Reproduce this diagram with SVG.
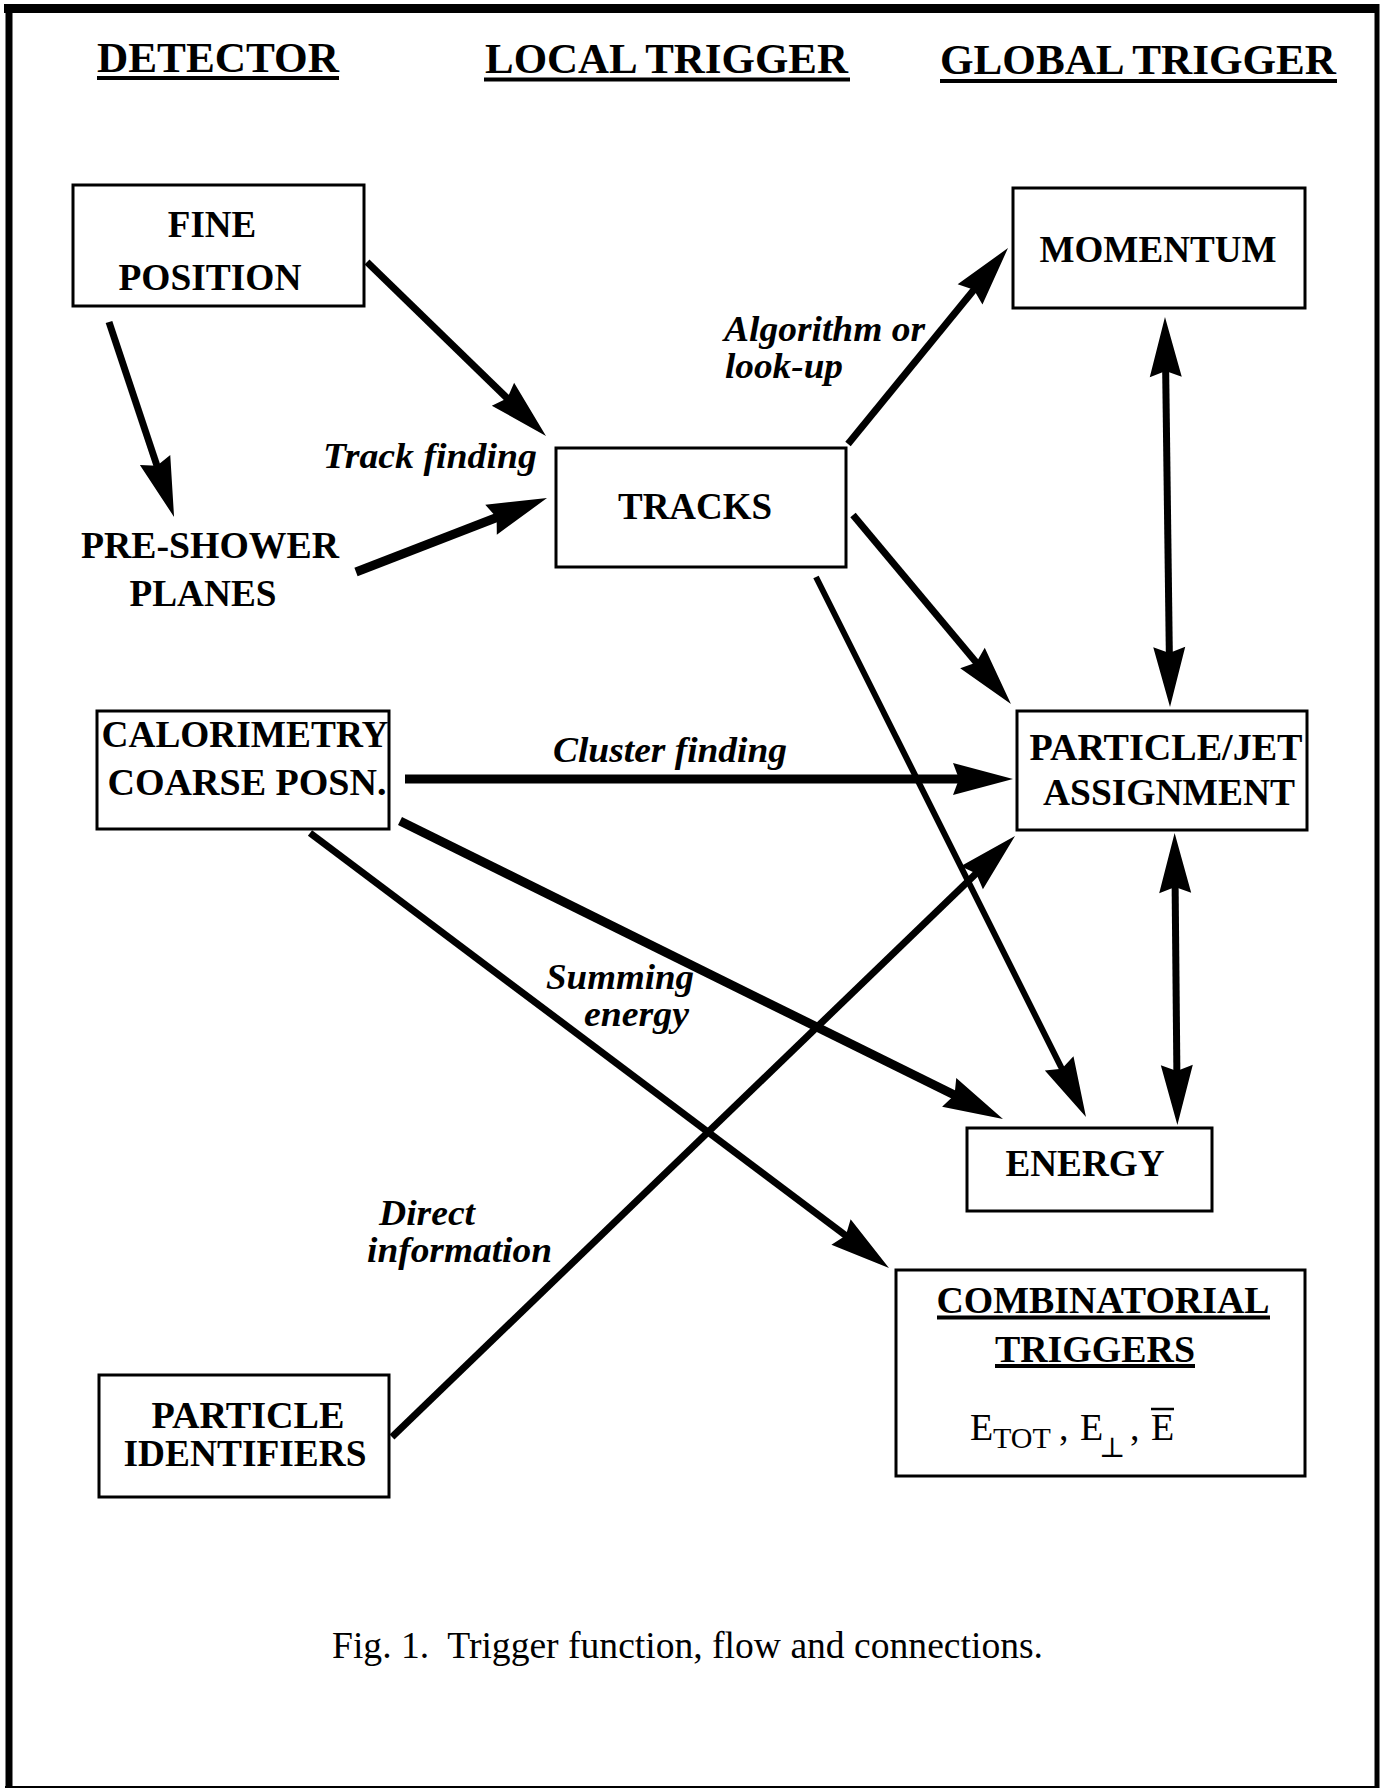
<svg xmlns="http://www.w3.org/2000/svg" width="1383" height="1789" viewBox="0 0 1383 1789">
<style>
  text { font-family: "Liberation Serif", "Times New Roman", serif; fill: #000; }
  .hdr { font-size: 43px; font-weight: bold; }
  .node { font-size: 37px; font-weight: bold; text-anchor: middle; }
  .lbl { font-size: 36px; font-weight: bold; font-style: italic; }
  .math { font-size: 38px; }
  .cap { font-size: 37px; }
  .box { fill: #fff; stroke: #000; stroke-width: 3; }
  .ul { stroke: #000; stroke-width: 4; }
  .conn line { stroke: #000; stroke-linecap: butt; fill: none; }
  .a { marker-end: url(#ah); }
  .d { marker-start: url(#ah); marker-end: url(#ah); }
</style>
<defs>
  <marker id="ah" markerUnits="userSpaceOnUse" markerWidth="70" markerHeight="40" refX="0" refY="0" orient="auto-start-reverse" overflow="visible">
    <path d="M40,0 L-20,-16 L-14,0 L-20,16 Z" fill="#000"/>
  </marker>
</defs>
<rect width="1383" height="1789" fill="#fff"/>
<!-- frame -->
<g id="frame" stroke="#000">
  <line x1="4" y1="8.5" x2="1379" y2="8.5" stroke-width="9"/>
  <line x1="9" y1="4" x2="9" y2="1788" stroke-width="7"/>
  <line x1="1377" y1="4" x2="1377" y2="1788" stroke-width="5"/>
  <line x1="5" y1="1787" x2="1379" y2="1787" stroke-width="2"/>
</g>
<!-- headers -->
<g id="headers">
  <text class="hdr" x="97" y="72" textLength="242" lengthAdjust="spacingAndGlyphs">DETECTOR</text>
  <line class="ul" x1="97" y1="78" x2="339" y2="78"/>
  <text class="hdr" x="485" y="73" textLength="363" lengthAdjust="spacingAndGlyphs">LOCAL TRIGGER</text>
  <line class="ul" x1="484" y1="79.5" x2="850" y2="79.5"/>
  <text class="hdr" x="940" y="74" textLength="396" lengthAdjust="spacingAndGlyphs">GLOBAL TRIGGER</text>
  <line class="ul" x1="940" y1="81" x2="1337" y2="81"/>
</g>
<!-- connectors -->
<g id="connectors" class="conn">
  <line class="a" x1="367" y1="262" x2="517.3" y2="408.1" stroke-width="7"/>
  <line class="a" x1="109" y1="322" x2="161.4" y2="479" stroke-width="7"/>
  <line class="a" x1="356" y1="572" x2="509.7" y2="512.5" stroke-width="9"/>
  <line class="a" x1="848" y1="444" x2="982.7" y2="279" stroke-width="7"/>
  <line class="a" x1="853" y1="515" x2="985.3" y2="673.3" stroke-width="7"/>
  <line class="a" x1="816" y1="577" x2="1068.1" y2="1081.2" stroke-width="6"/>
  <line class="d" x1="1165.5" y1="357" x2="1169.5" y2="667" stroke-width="7"/>
  <line class="d" x1="1175" y1="873" x2="1177" y2="1085" stroke-width="7"/>
  <line class="a" x1="405" y1="779" x2="973" y2="779" stroke-width="9"/>
  <line class="a" x1="400" y1="821" x2="967.1" y2="1101.3" stroke-width="9"/>
  <line class="a" x1="310" y1="833" x2="857" y2="1244" stroke-width="7"/>
  <line class="a" x1="392" y1="1437" x2="986.2" y2="863.8" stroke-width="7"/>
</g>
<!-- connector labels -->
<g id="labels">
  <text class="lbl" x="323" y="468" textLength="214" lengthAdjust="spacingAndGlyphs">Track finding</text>
  <text class="lbl" x="724" y="341" textLength="201" lengthAdjust="spacingAndGlyphs">Algorithm or</text>
  <text class="lbl" x="725" y="378" textLength="118" lengthAdjust="spacingAndGlyphs">look-up</text>
  <text class="lbl" x="553" y="762" textLength="234" lengthAdjust="spacingAndGlyphs">Cluster finding</text>
  <text class="lbl" x="546" y="989" textLength="148" lengthAdjust="spacingAndGlyphs">Summing</text>
  <text class="lbl" x="584" y="1026" textLength="105" lengthAdjust="spacingAndGlyphs">energy</text>
  <text class="lbl" x="379" y="1225" textLength="96" lengthAdjust="spacingAndGlyphs">Direct</text>
  <text class="lbl" x="367" y="1262" textLength="185" lengthAdjust="spacingAndGlyphs">information</text>
</g>
<!-- nodes -->
<g id="fine-position">
  <rect class="box" x="73" y="185" width="291" height="121"/>
  <text class="node" x="212" y="237">FINE</text>
  <text class="node" x="210" y="290" textLength="183" lengthAdjust="spacingAndGlyphs">POSITION</text>
</g>
<g id="pre-shower">
  <text class="node" x="210" y="558" textLength="258" lengthAdjust="spacingAndGlyphs">PRE-SHOWER</text>
  <text class="node" x="203" y="606" textLength="147" lengthAdjust="spacingAndGlyphs">PLANES</text>
</g>
<g id="calorimetry">
  <rect class="box" x="97" y="711" width="292" height="118"/>
  <text class="node" x="245" y="747" textLength="287" lengthAdjust="spacingAndGlyphs">CALORIMETRY</text>
  <text class="node" x="247" y="795" textLength="279" lengthAdjust="spacingAndGlyphs">COARSE POSN.</text>
</g>
<g id="particle-identifiers">
  <rect class="box" x="99" y="1375" width="290" height="122"/>
  <text class="node" x="248" y="1428" textLength="193" lengthAdjust="spacingAndGlyphs">PARTICLE</text>
  <text class="node" x="245" y="1466" textLength="243" lengthAdjust="spacingAndGlyphs">IDENTIFIERS</text>
</g>
<g id="tracks">
  <rect class="box" x="556" y="448" width="290" height="119"/>
  <text class="node" x="695" y="519" textLength="154" lengthAdjust="spacingAndGlyphs">TRACKS</text>
</g>
<g id="momentum">
  <rect class="box" x="1013" y="188" width="292" height="120"/>
  <text class="node" x="1158" y="262" textLength="237" lengthAdjust="spacingAndGlyphs">MOMENTUM</text>
</g>
<g id="particle-jet">
  <rect class="box" x="1017" y="711" width="290" height="119"/>
  <text class="node" x="1166" y="760" textLength="273" lengthAdjust="spacingAndGlyphs">PARTICLE/JET</text>
  <text class="node" x="1169" y="805" textLength="252" lengthAdjust="spacingAndGlyphs">ASSIGNMENT</text>
</g>
<g id="energy">
  <rect class="box" x="967" y="1128" width="245" height="83"/>
  <text class="node" x="1085" y="1176" textLength="159" lengthAdjust="spacingAndGlyphs">ENERGY</text>
</g>
<g id="combinatorial">
  <rect class="box" x="896" y="1270" width="409" height="206"/>
  <text class="node" x="1103" y="1313" textLength="333" lengthAdjust="spacingAndGlyphs">COMBINATORIAL</text>
  <line class="ul" x1="937" y1="1317.5" x2="1270" y2="1317.5" stroke-width="3.5"/>
  <text class="node" x="1095" y="1362" textLength="200" lengthAdjust="spacingAndGlyphs">TRIGGERS</text>
  <line class="ul" x1="995" y1="1366" x2="1195" y2="1366" stroke-width="3.5"/>
  <text class="math" y="1440"><tspan x="970">E</tspan><tspan x="993" y="1448" font-size="30">TOT</tspan><tspan x="1059" y="1440">,</tspan><tspan x="1080">E</tspan><tspan x="1099" y="1457" font-size="28" font-family="DejaVu Serif, serif">⊥</tspan><tspan x="1130" y="1440">,</tspan><tspan x="1151">E</tspan></text>
  <line x1="1151" y1="1409" x2="1174" y2="1409" stroke="#000" stroke-width="2.5"/>
</g>
<!-- caption -->
<text class="cap" x="332" y="1658" xml:space="preserve" textLength="711" lengthAdjust="spacingAndGlyphs">Fig. 1.  Trigger function, flow and connections.</text>
</svg>
